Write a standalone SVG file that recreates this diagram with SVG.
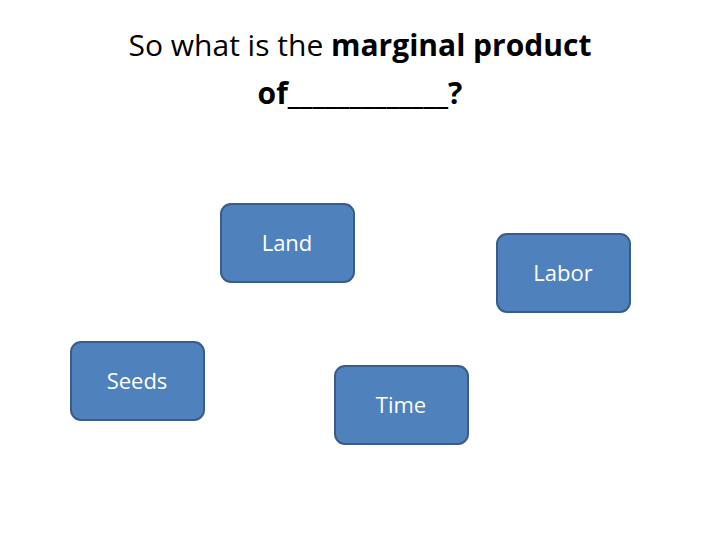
<svg xmlns="http://www.w3.org/2000/svg" width="720" height="540" viewBox="0 0 720 540">
<style>
.t{font-family:"Open Sans","Noto Sans",sans-serif;font-size:30px;fill:#000;text-anchor:middle}
.b{fill:#4f81bd;stroke:#385d8a;stroke-width:2}
.l{font-family:"Open Sans","Noto Sans",sans-serif;font-size:22px;fill:#fff;text-anchor:middle}
</style>
<rect width="720" height="540" fill="#fff"/>
<text class="t" x="360" y="56">So what is the <tspan font-weight="bold">marginal product</tspan></text>
<text class="t" x="360" y="104" font-weight="bold">of_____________?</text>
<g id="land"><rect class="b" x="221" y="204" width="133" height="78" rx="10"/><text class="l" x="287" y="251">Land</text></g>
<g id="labor"><rect class="b" x="497" y="234" width="133" height="78" rx="10"/><text class="l" x="563" y="281">Labor</text></g>
<g id="seeds"><rect class="b" x="71" y="342" width="133" height="78" rx="10"/><text class="l" x="137" y="389">Seeds</text></g>
<g id="time"><rect class="b" x="335" y="366" width="133" height="78" rx="10"/><text class="l" x="401" y="413">Time</text></g>
<g id="connectors"/>
</svg>
